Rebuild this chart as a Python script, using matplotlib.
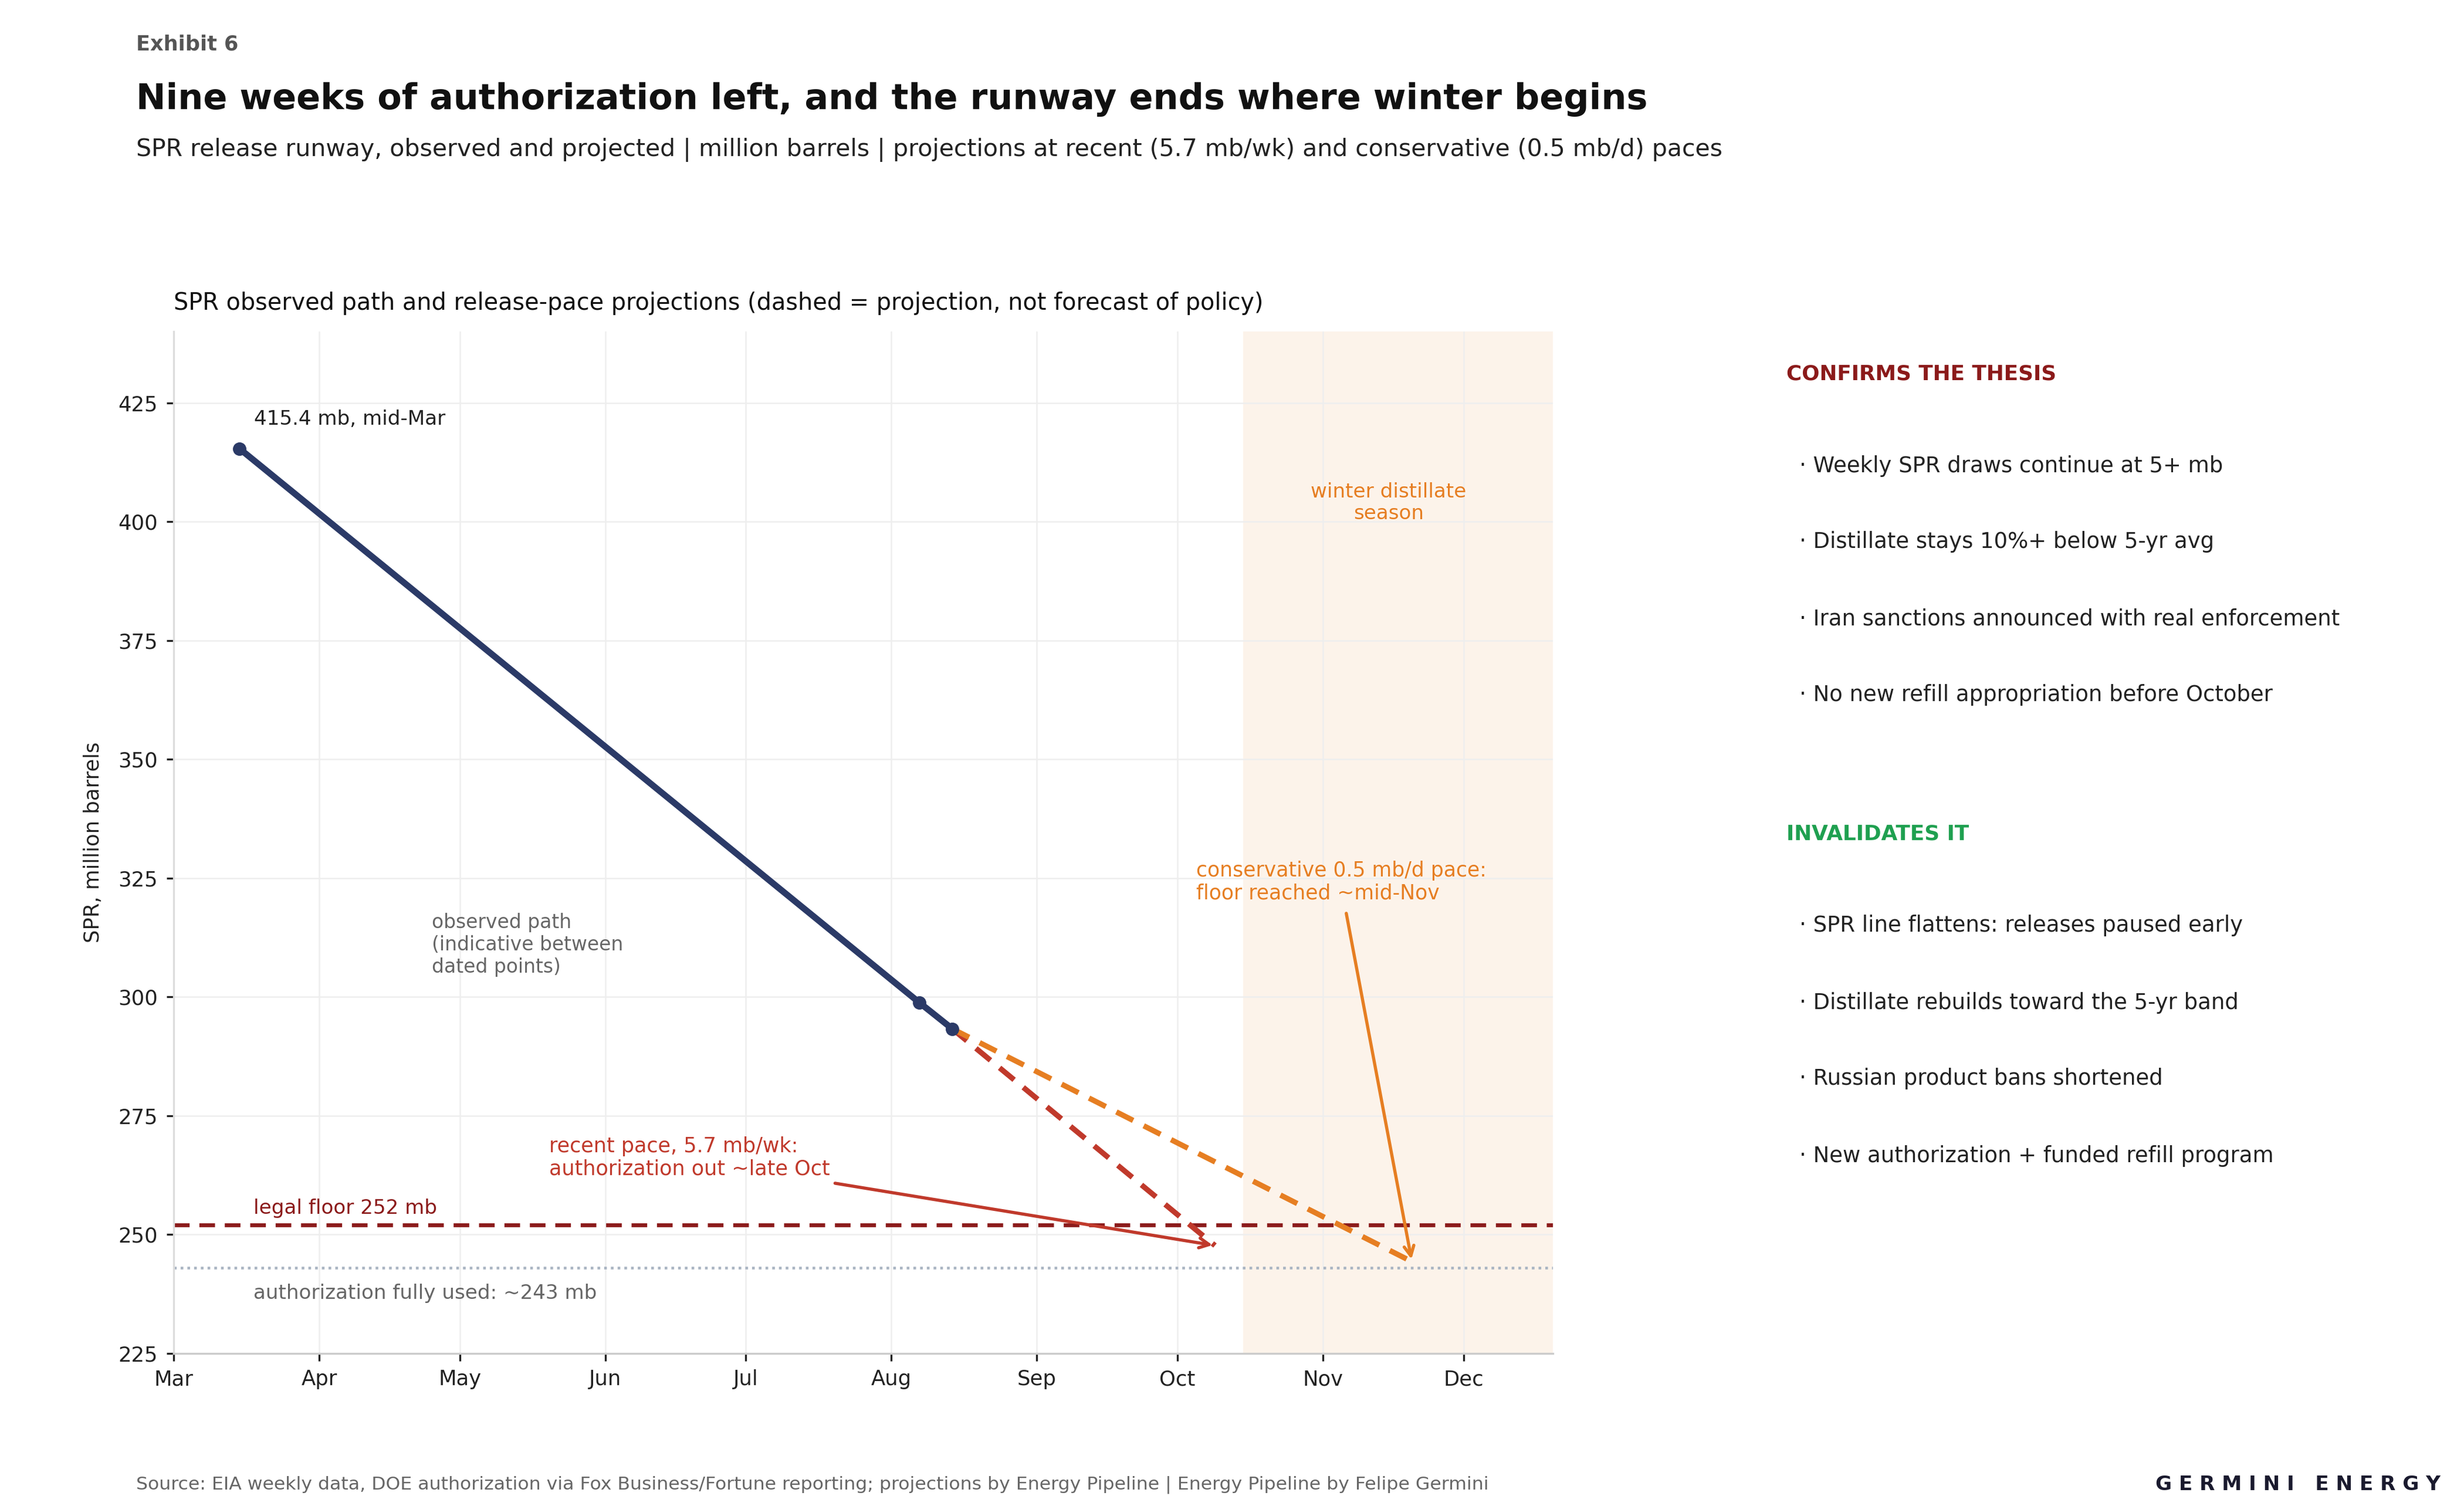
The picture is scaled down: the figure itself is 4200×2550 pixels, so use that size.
import matplotlib
matplotlib.use("Agg")
import matplotlib.pyplot as plt
import matplotlib.dates as mdates
import numpy as np
from datetime import datetime, timedelta

plt.rcParams['font.family'] = ['DejaVu Sans']

# ---------------- data ----------------
obs_dates = ["2025-03-15", "2025-08-07", "2025-08-14"]
obs_values = [415.4, 298.8, 293.3]

recent_dates = ["2025-08-14", "2025-10-09"]
recent_values = [293.3, 247.7]

cons_dates = ["2025-08-14", "2025-11-20"]
cons_values = [293.3, 244.3]

legal_floor = 252
auth_used = 243
winter_start, winter_end = "2025-10-15", "2025-12-25"
xlim = ["2025-03-01", "2025-12-20"]
ylim = [225, 440]
yticks = [225, 250, 275, 300, 325, 350, 375, 400, 425]

confirms = ["Weekly SPR draws continue at 5+ mb",
            "Distillate stays 10%+ below 5-yr avg",
            "Iran sanctions announced with real enforcement",
            "No new refill appropriation before October"]
invalidates = ["SPR line flattens: releases paused early",
               "Distillate rebuilds toward the 5-yr band",
               "Russian product bans shortened",
               "New authorization + funded refill program"]

def D(s):
    return datetime.strptime(s, "%Y-%m-%d")

NAVY = "#2B3A67"
RED = "#C0392B"
ORANGE = "#E67E22"
DARKRED = "#8B1A1A"
GREEN = "#1FA050"
GRAY = "#666666"

fig = plt.figure(figsize=(14, 8.5), dpi=300)
W, H = 1560.0, 947.3
def fx(x): return x / W
def fy(y): return 1 - y / H

ax = fig.add_axes([fx(110), fy(857), fx(983) - fx(110), fy(210) - fy(857)])

# shade
ax.axvspan(D(winter_start), D(winter_end), color="#FBEFE4", alpha=0.75, lw=0, zorder=0)

# reference lines
ax.axhline(legal_floor, color=DARKRED, lw=1.6, ls=(0, (4, 2.5)), zorder=2)
ax.axhline(auth_used, color="#A9B4C2", lw=1.1, ls=(0, (1, 1.5)), zorder=2)

# projections
ax.plot([D(d) for d in recent_dates], recent_values, color=RED, lw=2.2,
        ls=(0, (3.5, 2.2)), zorder=3)
ax.plot([D(d) for d in cons_dates], cons_values, color=ORANGE, lw=2.2,
        ls=(0, (3.5, 2.2)), zorder=3)

# observed
ax.plot([D(d) for d in obs_dates], obs_values, color=NAVY, lw=2.6, marker="o",
        markersize=4.5, zorder=4, solid_capstyle="round")

ax.set_xlim(D(xlim[0]), D(xlim[1]))
ax.set_ylim(*ylim)
ax.set_yticks(yticks)
ax.xaxis.set_major_locator(mdates.MonthLocator())
ax.xaxis.set_major_formatter(mdates.DateFormatter("%b"))
ax.grid(True, color="#EEEEEE", lw=0.6, zorder=0)
ax.set_axisbelow(True)
for s in ["top", "right"]:
    ax.spines[s].set_visible(False)
ax.spines["left"].set_color("#DDDDDD")
ax.spines["bottom"].set_color("#CCCCCC")
ax.tick_params(axis="both", labelsize=8.5, colors="#222222", length=3, width=0.8)
ax.set_ylabel("SPR, million barrels", fontsize=8.5, color="#222222", labelpad=6)

ax.set_title("SPR observed path and release-pace projections (dashed = projection, not forecast of policy)",
             loc="left", fontsize=9.55, color="#111111", pad=9)

# annotations
ax.annotate("415.4 mb, mid-Mar", xy=(D(obs_dates[0]), obs_values[0]), xytext=(6, 12),
            textcoords="offset points", fontsize=8.2, color="#222222", va="center")
ax.text(D("2025-04-25"), 311, "observed path\n(indicative between\ndated points)",
        fontsize=7.9, color=GRAY, va="center", ha="left", linespacing=1.2)
ax.text(D("2025-05-20"), 266.2, "recent pace, 5.7 mb/wk:\nauthorization out ~late Oct",
        fontsize=8.4, color=RED, va="center", ha="left", linespacing=1.15)
ax.annotate("", xy=(D(recent_dates[-1]), recent_values[-1]), xytext=(D("2025-07-20"), 260.8),
            arrowprops=dict(arrowstyle="->", color=RED, lw=1.3, shrinkA=0, shrinkB=1))
ax.text(D("2025-10-05"), 324.2, "conservative 0.5 mb/d pace:\nfloor reached ~mid-Nov",
        fontsize=8.3, color=ORANGE, va="center", ha="left", linespacing=1.15)
ax.annotate("", xy=(D(cons_dates[-1]), cons_values[-1]), xytext=(D("2025-11-06"), 317.6),
            arrowprops=dict(arrowstyle="->", color=ORANGE, lw=1.3, shrinkA=0, shrinkB=1))
ax.text(D("2025-11-15"), 404, "winter distillate\nseason", fontsize=8.2, color=ORANGE,
        ha="center", va="center", linespacing=1.15)
ax.text(D("2025-03-18"), 255.6, "legal floor 252 mb", fontsize=8.2, color=DARKRED,
        va="center", ha="left")
ax.text(D("2025-03-18"), 237.7, "authorization fully used: ~243 mb", fontsize=8.2,
        color=GRAY, va="center", ha="left")

# header
fig.text(fx(86), fy(28), "Exhibit 6", fontsize=8.4, fontweight="bold", color="#555555", va="center")
fig.text(fx(86), fy(63), "Nine weeks of authorization left, and the runway ends where winter begins",
         fontsize=14.5, fontweight="bold", color="#111111", va="center")
fig.text(fx(86), fy(95), "SPR release runway, observed and projected | million barrels | projections at recent (5.7 mb/wk) and conservative (0.5 mb/d) paces",
         fontsize=9.85, color="#222222", va="center")

# right panel
fig.text(fx(1131), fy(237), "CONFIRMS THE THESIS", fontsize=8.6, fontweight="bold",
         color=DARKRED, va="center")
for txt, y in zip(confirms, [295, 343, 392, 440]):
    fig.text(fx(1139), fy(y), "\u00b7 " + txt, fontsize=8.9, color="#222222", va="center")
fig.text(fx(1131), fy(528), "INVALIDATES IT", fontsize=8.6, fontweight="bold",
         color=GREEN, va="center")
for txt, y in zip(invalidates, [586, 635, 683, 732]):
    fig.text(fx(1139), fy(y), "\u00b7 " + txt, fontsize=8.9, color="#222222", va="center")

# footer
fig.text(fx(86), fy(940), "Source: EIA weekly data, DOE authorization via Fox Business/Fortune reporting; projections by Energy Pipeline | Energy Pipeline by Felipe Germini",
         fontsize=7.55, color="#666666", va="center")
fig.text(fx(1545), fy(940), "G E R M I N I   E N E R G Y", fontsize=8.2, fontweight="bold",
         color="#1a1a2e", va="center", ha="right")

fig.savefig("out.png", dpi=300, facecolor="white")
